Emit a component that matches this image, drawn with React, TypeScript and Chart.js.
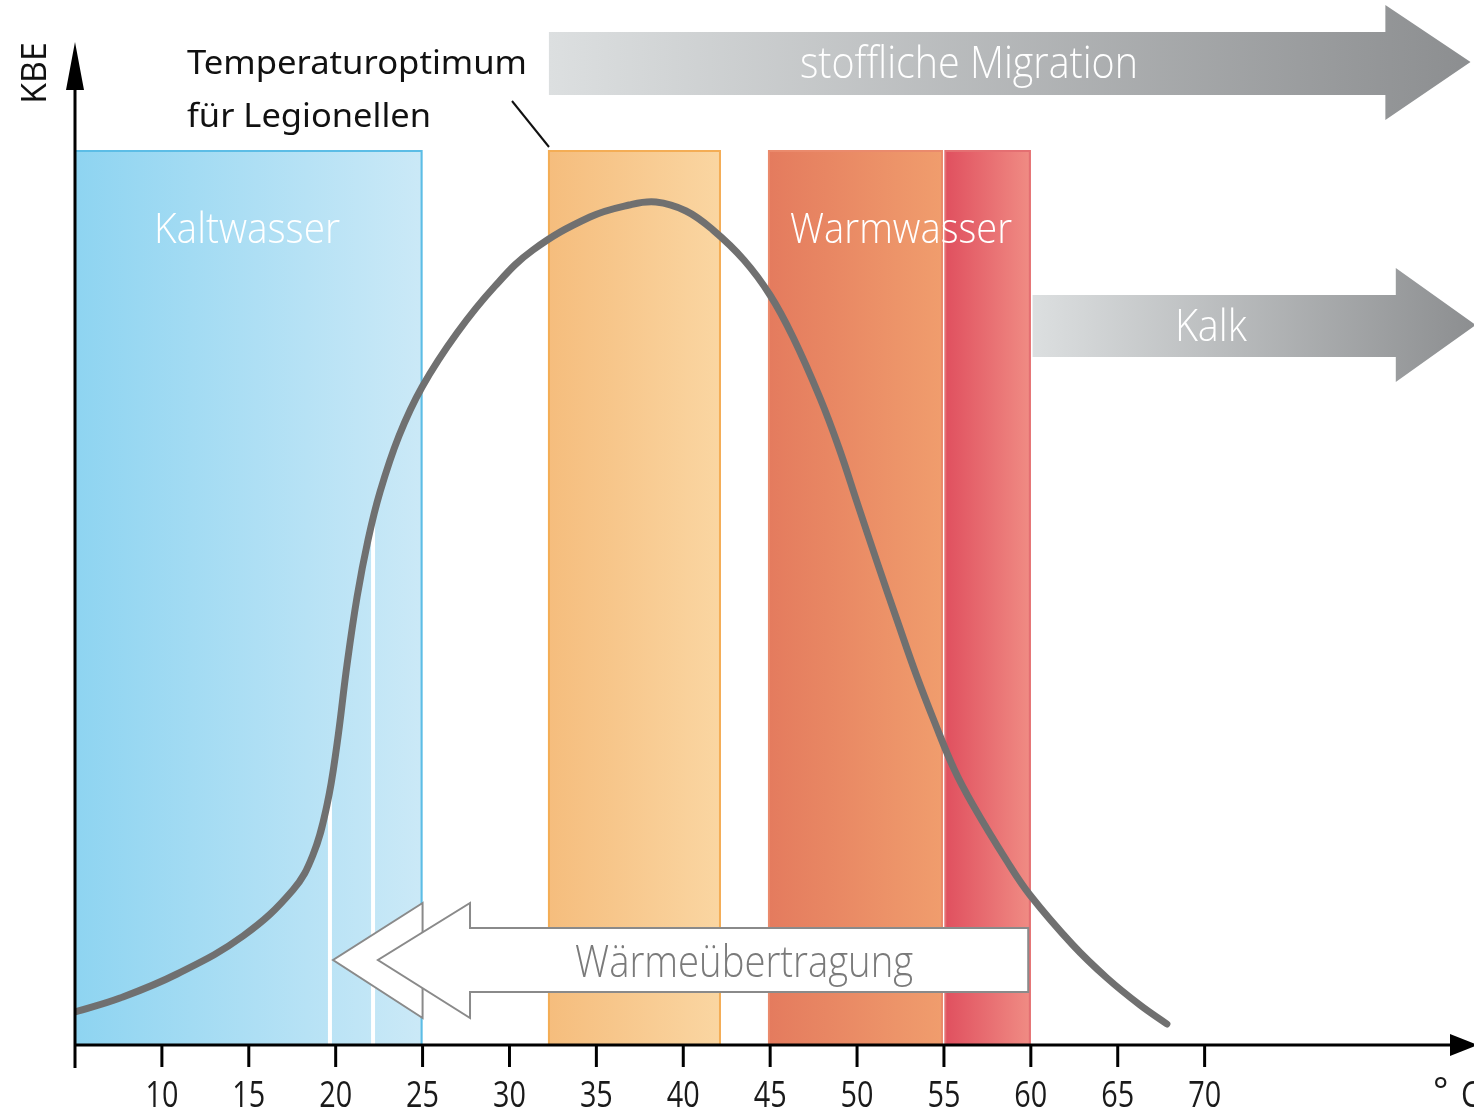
import React, { useEffect, useRef } from 'react';
import { Chart, registerables } from 'chart.js';

Chart.register(...registerables);

// ---------- data ----------
const X_TICKS = [10, 15, 20, 25, 30, 35, 40, 45, 50, 55, 60, 65, 70];
const X_MIN = 5;
const X_MAX = 85.5;
const Y_MIN = 0;
const Y_MAX = 100;

const CURVE_X = [5.0, 7.59, 10.87, 14.67, 17.54, 18.69, 19.5, 20.07, 20.65, 21.23, 21.86, 22.55, 23.64, 24.97, 26.98, 29.17, 31.35, 34.63, 36.88, 38.43, 40.16, 41.71, 43.49, 44.99, 46.31, 47.87, 48.96, 50.05, 51.17, 52.3, 53.39, 54.48, 55.58, 56.67, 58.62, 59.95, 62.42, 64.38, 66.28, 67.83];
const CURVE_Y = [3.3, 4.7, 7.1, 10.9, 15.5, 19.0, 24.0, 30.0, 38.0, 44.8, 50.5, 55.3, 60.9, 65.8, 71.2, 75.9, 79.5, 82.8, 84.0, 84.3, 83.4, 81.5, 78.5, 75.0, 70.8, 64.7, 59.7, 54.0, 48.2, 42.5, 37.1, 32.2, 27.6, 24.0, 18.4, 15.0, 10.0, 6.7, 4.0, 2.1];

const BAND_START = [5, 32.27, 44.93, 55.08];
const BAND_END = [25, 42.17, 54.94, 60];
const BAND_TOP = 89.5;
const BAND_LEFT_COLOR = ['#8ed4f1', '#f5bd7d', '#e47b5e', '#e0505f'];
const BAND_RIGHT_COLOR = ['#cbe9f7', '#fad6a2', '#f09d6d', '#f08c84'];
const BAND_EDGE_COLOR = ['#5cbde6', '#f4ad55', '#ea8a6c', '#e46f72'];

const BAND_LABELS = ['Kaltwasser', 'Warmwasser'];
const BAND_LABEL_X = [14.9, 52.53];
const BAND_LABEL_Y = [80.2, 80.2];
const BAND_LABEL_W = [186, 222];

const DROP_X = [19.67, 22.15];
const DROP_TOP = [25, 53];

const ARROW_LABELS = ['stoffliche Migration', 'Kalk'];
const ARROW_X0 = [32.27, 60.1];
const ARROW_X1 = [80.4, 81.0];
const ARROW_TIP = [85.3, 85.6];
const ARROW_BODY_TOP = [101.3, 75.0];
const ARROW_BODY_BOT = [95.0, 68.8];
const ARROW_HEAD_TOP = [104.0, 77.7];
const ARROW_HEAD_BOT = [92.5, 66.3];
const ARROW_MID = [98.3, 72.0];
const ARROW_TEXT_X = [56.44, 70.36];
const ARROW_TEXT_BASE = [96.7, 70.4];
const ARROW_TEXT_W = [338, 72];

const HEAT_LABEL = 'Wärmeübertragung';
const HEAT_BODY = [27.73, 59.85];
const HEAT_TIP = 22.43;
const HEAT_OUTER_BACK = 25.0;
const HEAT_OUTER_TIP = 19.85;
const HEAT_Y = [11.7, 5.3, 14.2, 2.7, 8.5]; // bodyTop, bodyBot, headTop, headBot, mid
const HEAT_TEXT_X = 43.5;
const HEAT_TEXT_BASE = 6.8;
const HEAT_TEXT_W = 338;

const Y_TITLE = 'KBE';
const X_UNIT = ['°', 'C'];
const NOTE_LINES = ['Temperaturoptimum', 'für Legionellen'];

const NARROW = '"Open Sans", "DejaVu Sans", sans-serif';

function fitText(ctx: CanvasRenderingContext2D, text: string, x: number, y: number, w: number, font: string, color: string, align: 'center' | 'left') {
  ctx.save();
  ctx.font = font;
  const m = ctx.measureText(text).width;
  ctx.translate(x, y);
  ctx.scale(w / m, 1);
  ctx.fillStyle = color;
  ctx.textAlign = align;
  ctx.textBaseline = 'alphabetic';
  ctx.fillText(text, 0, 0);
  ctx.restore();
}

const overlay = {
  id: 'overlay',
  beforeDatasetsDraw(chart: any) {
    const ctx: CanvasRenderingContext2D = chart.ctx;
    const xs = chart.scales.x;
    const ys = chart.scales.y;
    const X = (v: number) => xs.getPixelForValue(v);
    const Y = (v: number) => ys.getPixelForValue(v);
    ctx.save();
    for (let i = 0; i < BAND_START.length; i++) {
      const l = X(BAND_START[i]);
      const r = X(BAND_END[i]);
      const t = Y(BAND_TOP);
      const b = Y(0);
      const g = ctx.createLinearGradient(l, 0, r, 0);
      g.addColorStop(0, BAND_LEFT_COLOR[i]);
      g.addColorStop(1, BAND_RIGHT_COLOR[i]);
      ctx.fillStyle = g;
      ctx.fillRect(l, t, r - l, b - t);
      ctx.strokeStyle = BAND_EDGE_COLOR[i];
      ctx.lineWidth = 2;
      ctx.beginPath();
      ctx.moveTo(l, b);
      ctx.lineTo(l, t + 1);
      ctx.lineTo(r - 1, t + 1);
      ctx.lineTo(r - 1, b);
      ctx.stroke();
    }
    ctx.strokeStyle = '#ffffff';
    ctx.lineWidth = 4;
    for (let i = 0; i < DROP_X.length; i++) {
      ctx.beginPath();
      ctx.moveTo(X(DROP_X[i]), Y(DROP_TOP[i]));
      ctx.lineTo(X(DROP_X[i]), Y(0));
      ctx.stroke();
    }
    for (let i = 0; i < BAND_LABELS.length; i++) {
      fitText(ctx, BAND_LABELS[i], X(BAND_LABEL_X[i]), Y(BAND_LABEL_Y[i]), BAND_LABEL_W[i], `300 42px ${NARROW}`, '#ffffff', 'center');
    }
    for (let i = 0; i < ARROW_LABELS.length; i++) {
      const x0 = X(ARROW_X0[i]);
      const x1 = X(ARROW_X1[i]);
      const xt = X(ARROW_TIP[i]);
      const g = ctx.createLinearGradient(x0, 0, xt, 0);
      g.addColorStop(0, '#dcdfe0');
      g.addColorStop(1, '#8c8e90');
      ctx.fillStyle = g;
      ctx.beginPath();
      ctx.moveTo(x0, Y(ARROW_BODY_TOP[i]));
      ctx.lineTo(x1, Y(ARROW_BODY_TOP[i]));
      ctx.lineTo(x1, Y(ARROW_HEAD_TOP[i]));
      ctx.lineTo(xt, Y(ARROW_MID[i]));
      ctx.lineTo(x1, Y(ARROW_HEAD_BOT[i]));
      ctx.lineTo(x1, Y(ARROW_BODY_BOT[i]));
      ctx.lineTo(x0, Y(ARROW_BODY_BOT[i]));
      ctx.closePath();
      ctx.fill();
      fitText(ctx, ARROW_LABELS[i], X(ARROW_TEXT_X[i]), Y(ARROW_TEXT_BASE[i]), ARROW_TEXT_W[i], `300 44px ${NARROW}`, '#ffffff', 'center');
    }
    ctx.fillStyle = '#ffffff';
    ctx.strokeStyle = '#8a8a8a';
    ctx.lineWidth = 2;
    ctx.lineJoin = 'miter';
    ctx.beginPath();
    ctx.moveTo(X(HEAT_OUTER_BACK), Y(HEAT_Y[2]));
    ctx.lineTo(X(HEAT_OUTER_TIP), Y(HEAT_Y[4]));
    ctx.lineTo(X(HEAT_OUTER_BACK), Y(HEAT_Y[3]));
    ctx.closePath();
    ctx.fill();
    ctx.stroke();
    ctx.beginPath();
    ctx.moveTo(X(HEAT_BODY[1]), Y(HEAT_Y[0]));
    ctx.lineTo(X(HEAT_BODY[0]), Y(HEAT_Y[0]));
    ctx.lineTo(X(HEAT_BODY[0]), Y(HEAT_Y[2]));
    ctx.lineTo(X(HEAT_TIP), Y(HEAT_Y[4]));
    ctx.lineTo(X(HEAT_BODY[0]), Y(HEAT_Y[3]));
    ctx.lineTo(X(HEAT_BODY[0]), Y(HEAT_Y[1]));
    ctx.lineTo(X(HEAT_BODY[1]), Y(HEAT_Y[1]));
    ctx.closePath();
    ctx.fill();
    ctx.stroke();
    fitText(ctx, HEAT_LABEL, X(HEAT_TEXT_X), Y(HEAT_TEXT_BASE), HEAT_TEXT_W, `300 44px ${NARROW}`, '#7a7a7a', 'center');
    ctx.restore();
  },
  afterDatasetsDraw(chart: any) {
    const ctx: CanvasRenderingContext2D = chart.ctx;
    const xs = chart.scales.x;
    const ys = chart.scales.y;
    const X = (v: number) => xs.getPixelForValue(v);
    const Y = (v: number) => ys.getPixelForValue(v);
    const x0 = X(X_MIN);
    const y0 = Y(Y_MIN);
    const yTop = Y(Y_MAX);
    const xEnd = X(X_MAX);
    ctx.save();
    ctx.strokeStyle = '#000';
    ctx.fillStyle = '#000';
    ctx.lineWidth = 3;
    ctx.beginPath();
    ctx.moveTo(x0, y0 + 23);
    ctx.lineTo(x0, yTop + 30);
    ctx.stroke();
    ctx.beginPath();
    ctx.moveTo(x0, yTop - 3);
    ctx.lineTo(x0 + 9, yTop + 45);
    ctx.lineTo(x0 - 9, yTop + 45);
    ctx.closePath();
    ctx.fill();
    ctx.beginPath();
    ctx.moveTo(x0, y0);
    ctx.lineTo(xEnd - 20, y0);
    ctx.stroke();
    ctx.beginPath();
    ctx.moveTo(xEnd + 4, y0);
    ctx.lineTo(xEnd - 24, y0 - 11);
    ctx.lineTo(xEnd - 24, y0 + 11);
    ctx.closePath();
    ctx.fill();
    for (const t of X_TICKS) {
      const px = X(t);
      ctx.beginPath();
      ctx.moveTo(px, y0);
      ctx.lineTo(px, y0 + 22);
      ctx.stroke();
      ctx.save();
      ctx.font = `36px ${NARROW}`;
      ctx.translate(px, y0 + 62);
      ctx.scale(0.8, 1);
      ctx.textAlign = 'center';
      ctx.fillStyle = '#1a1a1a';
      ctx.fillText(String(t), 0, 0);
      ctx.restore();
    }
    ctx.save();
    ctx.font = `36px ${NARROW}`;
    ctx.fillStyle = '#1a1a1a';
    ctx.textAlign = 'left';
    ctx.fillText(X_UNIT[0], 1433, y0 + 58);
    ctx.save();
    ctx.translate(1461, y0 + 62);
    ctx.scale(0.85, 1);
    ctx.fillText(X_UNIT[1], 0, 0);
    ctx.restore();
    ctx.restore();
    ctx.save();
    ctx.translate(46, 73);
    ctx.rotate(-Math.PI / 2);
    ctx.font = `34px ${NARROW}`;
    ctx.fillStyle = '#111';
    ctx.textAlign = 'center';
    ctx.fillText(Y_TITLE, 0, 0);
    ctx.restore();
    fitText(ctx, NOTE_LINES[0], 187, 74, 340, `33px "Noto Sans", sans-serif`, '#111', 'left');
    fitText(ctx, NOTE_LINES[1], 187, 127, 244, `33px "Noto Sans", sans-serif`, '#111', 'left');
    ctx.lineWidth = 2;
    ctx.strokeStyle = '#111';
    ctx.beginPath();
    ctx.moveTo(512, 101);
    ctx.lineTo(549, 147);
    ctx.stroke();
    ctx.restore();
  },
};

export default function App() {
  const ref = useRef<HTMLCanvasElement>(null);
  useEffect(() => {
    if (!ref.current) return;
    const chart = new Chart(ref.current, {
      type: 'line',
      data: {
        datasets: [
          {
            data: CURVE_X.map((x, i) => ({ x, y: CURVE_Y[i] })),
            borderColor: '#707070',
            borderWidth: 7,
            pointRadius: 0,
            tension: 0.4,
            fill: false,
            borderCapStyle: 'round',
            borderJoinStyle: 'round',
          } as any,
        ],
      },
      options: {
        animation: false,
        responsive: false,
        layout: { padding: { left: 75, right: 0, top: 45, bottom: 66 } },
        scales: {
          x: { type: 'linear', min: X_MIN, max: X_MAX, display: false },
          y: { type: 'linear', min: Y_MIN, max: Y_MAX, display: false },
        },
        plugins: { legend: { display: false }, tooltip: { enabled: false } },
      },
      plugins: [overlay],
    });
    return () => chart.destroy();
  }, []);
  return (
    <div style={{ position: 'absolute', left: 0, top: 0, width: 1474, height: 1111, background: '#fff' }}>
      <canvas ref={ref} width={1474} height={1111} />
    </div>
  );
}
